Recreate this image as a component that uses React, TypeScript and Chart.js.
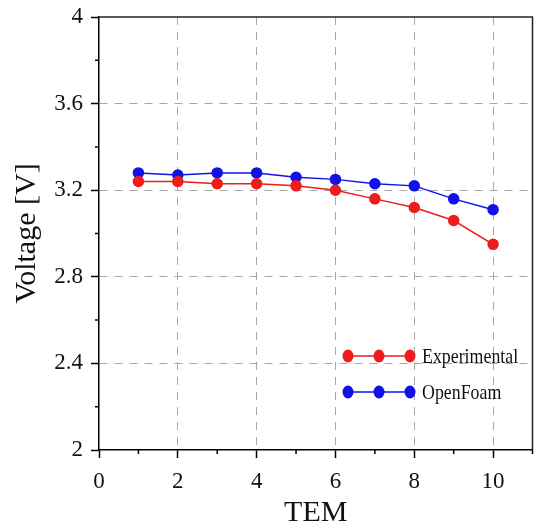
import React, { useEffect, useRef } from 'react';
import { Chart, registerables } from 'chart.js';

Chart.register(...registerables);

const tem = [1, 2, 3, 4, 5, 6, 7, 8, 9, 10];
const experimental = [3.24, 3.24, 3.23, 3.23, 3.22, 3.2, 3.16, 3.12, 3.06, 2.95];
const openFoam = [3.28, 3.27, 3.28, 3.28, 3.26, 3.25, 3.23, 3.22, 3.16, 3.11];
const xTickLabels = [0, 2, 4, 6, 8, 10];
const yTickLabels = [2, 2.4, 2.8, 3.2, 3.6, 4];
const seriesNames = ['Experimental', 'OpenFoam'];

const RED = 'rgb(238,28,28)';
const BLUE = 'rgb(18,18,232)';
const FONT = "'Liberation Serif', 'Times New Roman', serif";

const near = (a: number, b: number) => Math.abs(a - b) < 1e-6;
const isMajorX = (v: number) => xTickLabels.some((t) => near(t, v));
const isMajorY = (v: number) => yTickLabels.some((t) => near(t, v));

const frameAndMinorPlugin = {
  id: 'frameMinor',
  afterDraw(chart: any) {
    const { ctx, chartArea } = chart;
    const xs = chart.scales.x;
    const ys = chart.scales.y;
    ctx.save();
    ctx.strokeStyle = '#000';
    ctx.lineWidth = 1.5;
    ctx.beginPath();
    for (let v = 1; v <= 11; v += 2) {
      const px = xs.getPixelForValue(v);
      ctx.moveTo(px, ys.bottom);
      ctx.lineTo(px, ys.bottom + 4);
    }
    for (let v = 2.2; v < 4; v += 0.4) {
      const py = ys.getPixelForValue(v);
      ctx.moveTo(xs.left, py);
      ctx.lineTo(xs.left - 4, py);
    }
    ctx.stroke();
    ctx.lineWidth = 1.5;
    ctx.strokeStyle = '#222';
    ctx.beginPath();
    ctx.moveTo(chartArea.left, chartArea.top);
    ctx.lineTo(chartArea.right, chartArea.top);
    ctx.lineTo(chartArea.right, chartArea.bottom);
    ctx.stroke();
    ctx.restore();
  },
};

const legendPlugin = {
  id: 'customLegend',
  afterDraw(chart: any) {
    const { ctx, chartArea } = chart;
    const colors = [RED, BLUE];
    seriesNames.forEach((name, i) => {
      const y = chartArea.top + 339 + i * 36;
      const x0 = chartArea.left + 249;
      const x1 = x0 + 62;
      ctx.save();
      ctx.strokeStyle = colors[i];
      ctx.fillStyle = colors[i];
      ctx.lineWidth = 1.5;
      ctx.beginPath();
      ctx.moveTo(x0, y);
      ctx.lineTo(x1, y);
      ctx.stroke();
      [x0, (x0 + x1) / 2, x1].forEach((cx) => {
        ctx.beginPath();
        ctx.ellipse(cx, y, 5.5, 6.5, 0, 0, Math.PI * 2);
        ctx.fill();
      });
      ctx.fillStyle = '#111';
      ctx.font = `21px ${FONT}`;
      ctx.textBaseline = 'middle';
      ctx.translate(x1 + 12, y + 1);
      ctx.scale(0.85, 1);
      ctx.fillText(name, 0, 0);
      ctx.restore();
    });
  },
};

export default function App() {
  const canvasRef = useRef<HTMLCanvasElement | null>(null);

  useEffect(() => {
    const canvas = canvasRef.current;
    if (!canvas) return;
    const chart = new Chart(canvas, {
      type: 'line',
      data: {
        datasets: [
          {
            label: seriesNames[0],
            data: tem.map((x, i) => ({ x, y: experimental[i] })),
            borderColor: RED,
            backgroundColor: RED,
            pointBackgroundColor: RED,
            pointBorderColor: RED,
            pointRadius: 5,
            borderWidth: 1.5,
          },
          {
            label: seriesNames[1],
            data: tem.map((x, i) => ({ x, y: openFoam[i] })),
            borderColor: BLUE,
            backgroundColor: BLUE,
            pointBackgroundColor: BLUE,
            pointBorderColor: BLUE,
            pointRadius: 5,
            borderWidth: 1.5,
          },
        ],
      },
      options: {
        responsive: false,
        animation: false,
        layout: { padding: { top: 17, right: 3, left: 0, bottom: 0 } },
        plugins: { legend: { display: false }, tooltip: { enabled: false } },
        scales: {
          x: {
            type: 'linear',
            min: 0,
            max: 11,
            afterFit: (s: any) => {
              s.height = 77;
              s.paddingLeft = 0;
              s.paddingRight = 0;
            },
            ticks: {
              stepSize: 1,
              autoSkip: false,
              maxRotation: 0,
              color: '#111',
              font: { family: FONT, size: 23 },
              padding: 10,
              callback: (v: any) => (isMajorX(Number(v)) ? String(v) : ''),
            },
            grid: {
              tickLength: 8,
              tickWidth: 1.5,
              lineWidth: 1,
              color: (c: any) => {
                const v = c.tick ? c.tick.value : NaN;
                return isMajorX(v) && v > 0 ? '#a8a8a8' : 'rgba(0,0,0,0)';
              },
              tickColor: (c: any) => {
                const v = c.tick ? c.tick.value : NaN;
                return isMajorX(v) ? '#000' : 'rgba(0,0,0,0)';
              },
            },
            border: { display: true, color: '#000', width: 1.5, dash: [8, 7] },
            title: {
              display: true,
              text: 'TEM',
              color: '#111',
              font: { family: FONT, size: 30, lineHeight: 0.9 },
              padding: { top: 0, bottom: 0 },
            },
          },
          y: {
            type: 'linear',
            min: 2,
            max: 4,
            afterFit: (s: any) => {
              s.width = 99;
              s.paddingTop = 0;
              s.paddingBottom = 0;
            },
            ticks: {
              stepSize: 0.2,
              autoSkip: false,
              color: '#111',
              font: { family: FONT, size: 23 },
              padding: 8,
              callback: (v: any) => {
                const n = Number(v);
                return isMajorY(n) ? String(Math.round(n * 10) / 10) : '';
              },
            },
            grid: {
              tickLength: 8,
              tickWidth: 1.5,
              lineWidth: 1,
              color: (c: any) => {
                const v = c.tick ? c.tick.value : NaN;
                return isMajorY(v) && v > 2.01 && v < 3.99 ? '#a8a8a8' : 'rgba(0,0,0,0)';
              },
              tickColor: (c: any) => {
                const v = c.tick ? c.tick.value : NaN;
                return isMajorY(v) ? '#000' : 'rgba(0,0,0,0)';
              },
            },
            border: { display: true, color: '#000', width: 1.5, dash: [8, 7] },
            title: {
              display: true,
              text: 'Voltage [V]',
              color: '#111',
              font: { family: FONT, size: 30, lineHeight: 0.9 },
              padding: { top: 14, bottom: 0 },
            },
          },
        },
      },
      plugins: [frameAndMinorPlugin, legendPlugin],
    });
    return () => chart.destroy();
  }, []);

  return (
    <div
      style={{
        position: 'absolute',
        left: 0,
        top: 0,
        width: 535,
        height: 527,
        overflow: 'hidden',
        background: '#fff',
      }}
    >
      <canvas ref={canvasRef} width={539} height={527} />
    </div>
  );
}
